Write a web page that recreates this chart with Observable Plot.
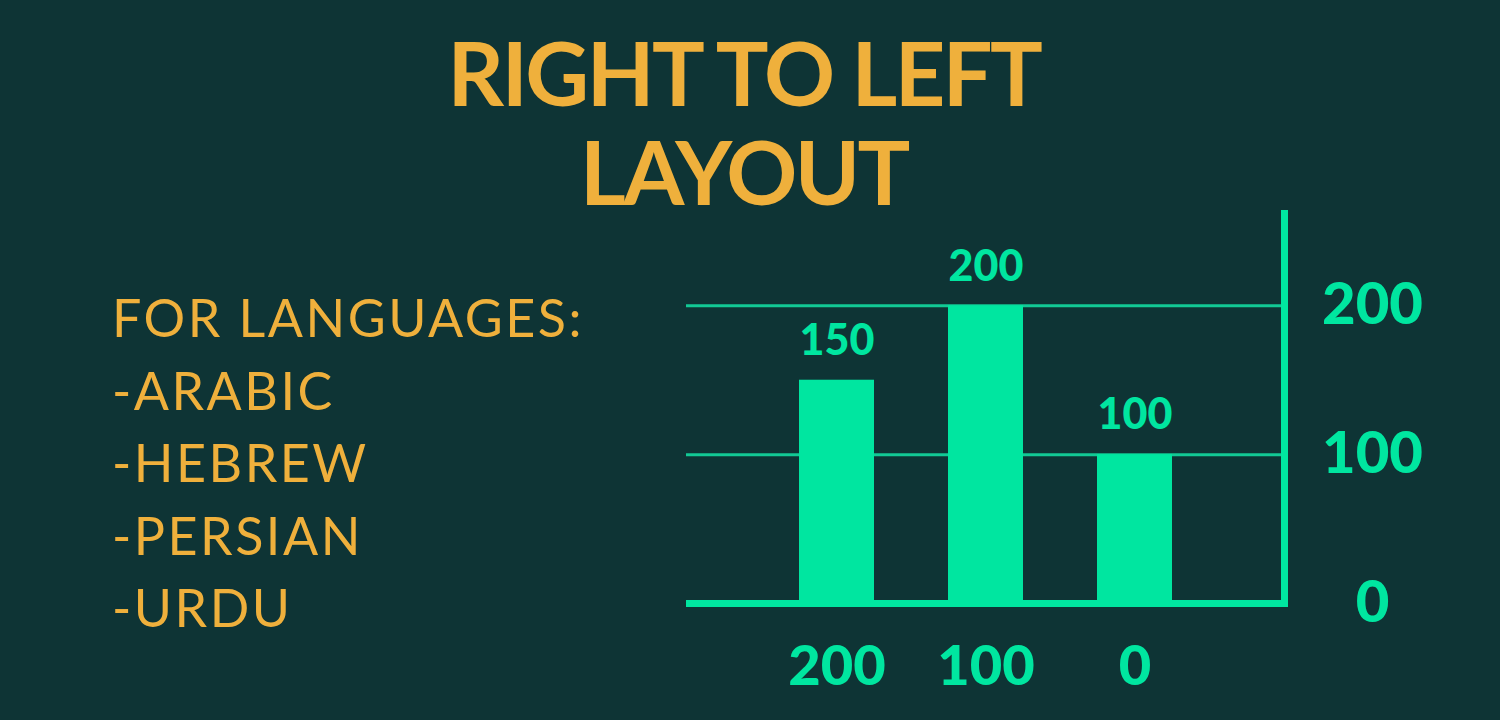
<!DOCTYPE html>
<html>
<head>
<meta charset="utf-8">
<script src="https://cdn.jsdelivr.net/npm/d3@7"></script>
<script src="https://cdn.jsdelivr.net/npm/@observablehq/plot@0.6"></script>
<style>
  html, body { margin: 0; padding: 0; background: #0e3435; }
  #page { position: relative; width: 1500px; height: 720px; overflow: hidden; background: #0e3435; font-family: Lato, "Open Sans", sans-serif; }
  .title { position: absolute; left: 0; width: 1488px; text-align: center; color: #efb03c; font-size: 88px; font-weight: 700; line-height: 90px; letter-spacing: -2.5px; }
  #list { position: absolute; left: 112px; top: 281px; color: #efb03c; font-size: 52px; line-height: 72.5px; font-weight: 400; letter-spacing: 2.5px; }
  #chart { position: absolute; left: 0; top: 0; }
</style>
</head>
<body>
<div id="page">
  <div class="title" style="top:27px">RIGHT TO LEFT</div>
  <div class="title" style="top:126px">LAYOUT</div>
  <div id="list"></div>
  <div id="chart"></div>
</div>
<script>
const categories = ["200", "100", "0"];
const values = [150, 200, 100];
const yTicks = [0, 100, 200];
const gridValues = [100, 200];
const listLines = ["FOR LANGUAGES:", "-ARABIC", "-HEBREW", "-PERSIAN", "-URDU"];

const green = "#00e6a0";
const gridGreen = "#12c995";

document.getElementById("list").innerHTML = listLines.map(s => `<div>${s}</div>`).join("");

const data = categories.map((c, i) => ({category: c, value: values[i]}));

const chart = Plot.plot({
  width: 1500,
  height: 720,
  marginLeft: 686,
  marginRight: 216,
  marginTop: 213,
  marginBottom: 117,
  style: {background: "transparent", fontFamily: "Lato, sans-serif", color: green},
  x: {domain: categories, paddingInner: 0.5, paddingOuter: 0.75, label: null},
  y: {domain: [0, 262], label: null},
  marks: [
    Plot.ruleY(gridValues, {stroke: gridGreen, strokeWidth: 3}),
    Plot.barY(data, {x: "category", y: "value", fill: green}),
    Plot.ruleY([0], {stroke: green, strokeWidth: 7}),
    Plot.frame({anchor: "right", stroke: green, strokeWidth: 7}),
    Plot.text(data, {x: "category", y: "value", text: d => String(d.value), dy: -39, lineAnchor: "middle", fill: green, fontSize: 43, fontWeight: 900}),
    Plot.axisY({anchor: "right", ticks: yTicks, tickSize: 0, tickPadding: 88, textAnchor: "middle", lineAnchor: "middle", fontSize: 58, fontWeight: 900, fill: green, label: null}),
    Plot.axisX({anchor: "bottom", tickSize: 0, tickPadding: 64, lineAnchor: "middle", fontSize: 56, fontWeight: 900, fill: green, label: null})
  ]
});
document.getElementById("chart").appendChild(chart);
</script>
</body>
</html>
